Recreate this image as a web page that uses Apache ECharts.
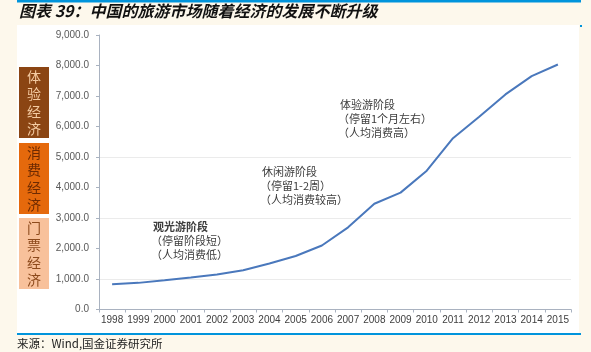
<!DOCTYPE html>
<html>
<head>
<meta charset="utf-8">
<script src="https://cdn.jsdelivr.net/npm/echarts@6/dist/echarts.min.js"></script>
<style>
html,body{margin:0;padding:0;background:#fdf8ec;}
#c{width:591px;height:352px;}
</style>
</head>
<body>
<div id="c"></div>
<script>
// ---- data ----
var years = ['1998','1999','2000','2001','2002','2003','2004','2005','2006','2007','2008','2009','2010','2011','2012','2013','2014','2015'];
var gdpPerCapita = [829, 873, 959, 1053, 1148, 1288, 1508, 1753, 2099, 2693, 3468, 3832, 4550, 5618, 6317, 7051, 7651, 8033];
var yTicks = {min: 0, max: 9000, interval: 1000};
var titleText = '图表 39：中国的旅游市场随着经济的发展不断升级';
var sourceText = '来源：Wind,国金证券研究所';
var stageBoxes = ['体验经济', '消费经济', '门票经济'];
var stageNotes = [
  ['观光游阶段', '（停留阶段短）', '（人均消费低）'],
  ['休闲游阶段', '（停留1-2周）', '（人均消费较高）'],
  ['体验游阶段', '（停留1个月左右）', '（人均消费高）']
];

function fmt(v) {
  var s = v.toFixed(1).split('.');
  s[0] = s[0].replace(/\B(?=(\d{3})+(?!\d))/g, ',');
  return s.join('.');
}

var CJK = '"Noto Sans CJK SC","Noto Sans",sans-serif';
var LAT = '"Liberation Sans",Arial,sans-serif';

var chart = echarts.init(document.getElementById('c'), null, {renderer: 'canvas'});

var boxStyles = [
  {y: 67, fill: '#8b4513', text: '#f4cba2'},
  {y: 143, fill: '#e5690c', text: '#6e2a02'},
  {y: 218, fill: '#f8c19b', text: '#8d4a1c'}
];
var notePos = [
  {x: 151, y: 227, bold: true},
  {x: 260, y: 172, bold: false},
  {x: 338, y: 105, bold: false}
];

var graphics = [
  {type: 'rect', z: -10, shape: {x: 17, y: 25, width: 562, height: 308}, style: {fill: '#ffffff'}, silent: true},
  {type: 'rect', z: 10, shape: {x: 17, y: 0, width: 564, height: 2.5}, style: {fill: '#0094dc'}, silent: true},
  {type: 'rect', z: 10, shape: {x: 580, y: 25, width: 2, height: 2}, style: {fill: '#0094dc'}, silent: true},
  {type: 'rect', z: 10, shape: {x: 17, y: 333, width: 564, height: 2}, style: {fill: '#0094dc'}, silent: true},
  {type: 'text', z: 10, left: 19, top: 3, style: {text: titleText, font: 'italic bold 16px ' + CJK, fill: '#111'}},
  {type: 'text', z: 10, left: 17, top: 338, style: {text: sourceText, font: '11.5px ' + CJK, fill: '#222'}}
];
stageBoxes.forEach(function (t, i) {
  var b = boxStyles[i];
  graphics.push({type: 'rect', z: 10, shape: {x: 19, y: b.y, width: 30, height: 71}, style: {fill: b.fill}});
  graphics.push({type: 'text', z: 11, x: 34, y: b.y + 35.5, style: {
    text: t.split('').join('\n'), font: '14px ' + CJK, lineHeight: 17.5,
    fill: b.text, align: 'center', verticalAlign: 'middle'}});
});
stageNotes.forEach(function (lines, i) {
  var p = notePos[i];
  lines.forEach(function (ln, j) {
    graphics.push({type: 'text', z: 10, x: p.x + (j === 0 ? 2 : 0), y: p.y + j * 14, style: {
      text: ln, font: ((j === 0 && p.bold) ? 'bold ' : '') + '11px ' + CJK,
      fill: '#3c3c3c', verticalAlign: 'middle'}});
  });
});

var clear = 'rgba(0,0,0,0)';
chart.setOption({
  backgroundColor: '#fdf8ec',
  animation: false,
  grid: {left: 99, right: 20, top: 35, bottom: 42.5, containLabel: false},
  xAxis: {
    type: 'category', data: years, boundaryGap: true,
    axisLine: {lineStyle: {color: '#a9b2c0', width: 1}},
    axisTick: {show: true, length: 3, lineStyle: {color: '#a9b2c0'}},
    axisLabel: {interval: 0, fontSize: 10, fontFamily: LAT, color: '#404040', margin: 6}
  },
  yAxis: {
    type: 'value', min: yTicks.min, max: yTicks.max, interval: yTicks.interval,
    axisLine: {show: true, lineStyle: {color: '#a9b2c0', width: 1}},
    axisTick: {show: true, length: 3, lineStyle: {color: '#a9b2c0'}},
    axisLabel: {fontSize: 10, fontFamily: LAT, color: '#595959', margin: 10, formatter: fmt},
    splitLine: {show: true, lineStyle: {width: 1, color: [clear, '#ebebeb', clear, '#ebebeb', clear, '#ebebeb', clear, clear, clear, clear]}}
  },
  series: [{
    type: 'line', data: gdpPerCapita, showSymbol: false, symbol: 'none',
    lineStyle: {color: '#4a78bc', width: 2}, smooth: false
  }],
  graphic: graphics
});
</script>
</body>
</html>
